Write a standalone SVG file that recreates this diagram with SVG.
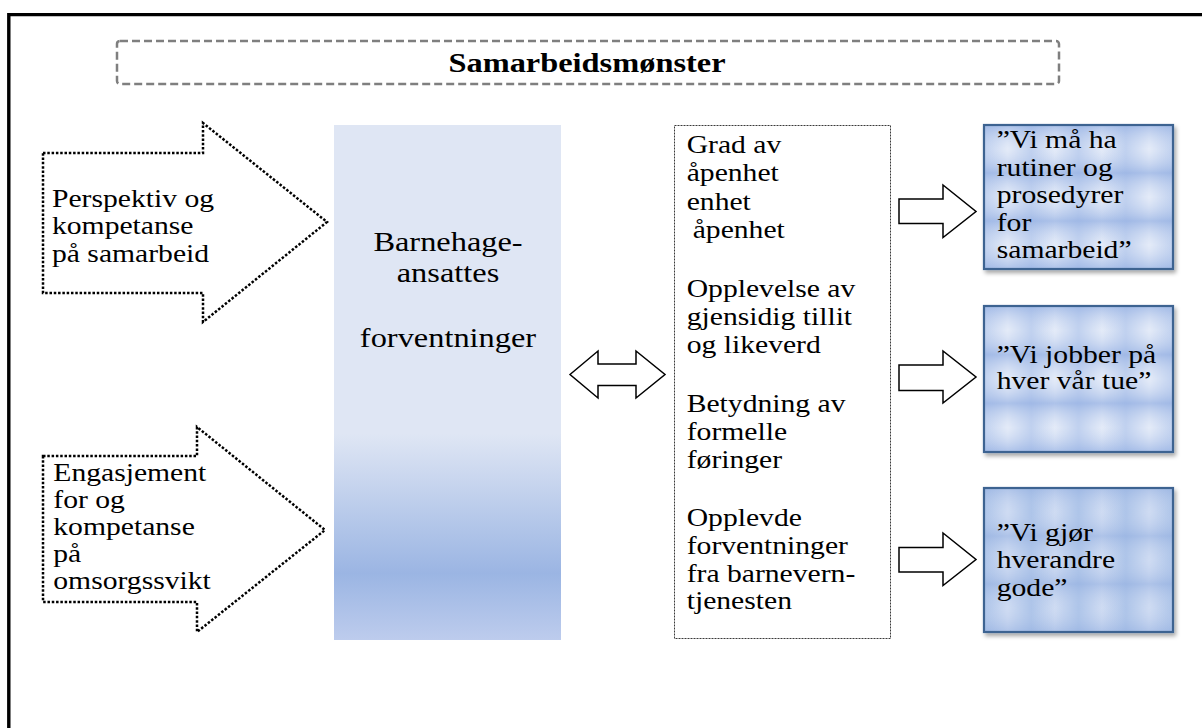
<svg xmlns="http://www.w3.org/2000/svg" width="1202" height="728" viewBox="0 0 1202 728">
<defs>
<style>
.t{font-family:"Liberation Serif","Times New Roman",serif;font-size:24.7px;fill:#000;}
.tb{font-family:"Liberation Serif","Times New Roman",serif;font-size:27px;fill:#000;}
.tt{font-family:"Liberation Serif","Times New Roman",serif;font-size:27px;font-weight:bold;fill:#000;}
.dotarrow{fill:#fff;stroke:#000;stroke-width:2.5;stroke-dasharray:2.5 1.8;}
.blk{fill:#fff;stroke:#000;stroke-width:1.5;stroke-linejoin:miter;}
.qbox{stroke:#3d6391;stroke-width:2.2;}
</style>
<linearGradient id="gcol" x1="0" y1="0" x2="0" y2="1">
<stop offset="0" stop-color="#dfe6f4"/>
<stop offset="0.6" stop-color="#dfe6f4"/>
<stop offset="0.87" stop-color="#9bb5e3"/>
<stop offset="1" stop-color="#bdcced"/>
</linearGradient>
<linearGradient id="gh1" x1="0" y1="0" x2="1" y2="0">
<stop offset="0" stop-color="#b0c5eb"/>
<stop offset="0.5" stop-color="#e4ebf8"/>
<stop offset="1" stop-color="#b0c5eb"/>
</linearGradient>
<linearGradient id="gv1" x1="0" y1="0" x2="0" y2="1">
<stop offset="0" stop-color="#9ab4e4" stop-opacity="0.75"/>
<stop offset="0.5" stop-color="#e4ebf8" stop-opacity="0.3"/>
<stop offset="1" stop-color="#9ab4e4" stop-opacity="0.75"/>
</linearGradient>
<linearGradient id="gh3" x1="0" y1="0" x2="1" y2="0">
<stop offset="0" stop-color="#a3bde6"/>
<stop offset="0.5" stop-color="#cddaf2"/>
<stop offset="1" stop-color="#a3bde6"/>
</linearGradient>
<linearGradient id="gv3" x1="0" y1="0" x2="0" y2="1">
<stop offset="0" stop-color="#9ab4e2" stop-opacity="0.6"/>
<stop offset="0.5" stop-color="#d6e1f4" stop-opacity="0.2"/>
<stop offset="1" stop-color="#9ab4e2" stop-opacity="0.6"/>
</linearGradient>
<pattern id="p1" patternUnits="objectBoundingBox" patternContentUnits="objectBoundingBox" width="0.25" height="0.3333">
<rect width="0.25" height="0.3333" fill="url(#gh1)"/>
<rect width="0.25" height="0.3333" fill="url(#gv1)"/>
</pattern>
<pattern id="p3" patternUnits="objectBoundingBox" patternContentUnits="objectBoundingBox" width="0.25" height="0.3333">
<rect width="0.25" height="0.3333" fill="url(#gh3)"/>
<rect width="0.25" height="0.3333" fill="url(#gv3)"/>
</pattern>
<filter id="sh" x="-10%" y="-10%" width="130%" height="130%">
<feDropShadow dx="2" dy="3" stdDeviation="2" flood-color="#000" flood-opacity="0.35"/>
</filter>
</defs>
<rect width="1202" height="728" fill="#fff"/>
<g id="frame">
<path d="M8.8,740 V14.6 H1215" fill="none" stroke="#000" stroke-width="3.4"/>
</g>
<g id="title">
<rect x="117" y="41" width="942" height="43" rx="3" fill="none" stroke="#7f7f7f" stroke-width="2.5" stroke-dasharray="8 4"/>
<text class="tt" transform="matrix(1.2 0 0 1 587 0)" x="0" y="72.5" text-anchor="middle">Samarbeidsmønster</text>
</g>
<g id="input-perspektiv">
<path class="dotarrow" d="M43,153 H203 V123 L327,222 L203,322 V293 H43 Z"/>
<text class="t" transform="matrix(1.2 0 0 1 52 0)"><tspan x="0" y="207">Perspektiv og</tspan><tspan x="0" y="234.5">kompetanse</tspan><tspan x="0" y="262">på samarbeid</tspan></text>
</g>
<g id="input-engasjement">
<path class="dotarrow" d="M43,456 H197 V427 L325,530 L197,632 V602 H43 Z"/>
<text class="t" transform="matrix(1.2 0 0 1 53.3 0)"><tspan x="0" y="481.5">Engasjement</tspan><tspan x="0" y="508.5">for og</tspan><tspan x="0" y="535.5">kompetanse</tspan><tspan x="0" y="562.5">på</tspan><tspan x="0" y="589.5">omsorgssvikt</tspan></text>
</g>
<g id="center">
<rect x="334" y="125" width="227" height="515" fill="url(#gcol)"/>
<text class="tb" transform="matrix(1.2 0 0 1 448 0)" text-anchor="middle"><tspan x="0" y="251">Barnehage-</tspan><tspan x="0" y="282">ansattes</tspan><tspan x="0" y="347.5">forventninger</tspan></text>
</g>
<g id="factors">
<rect x="674.5" y="125.5" width="216" height="513" fill="#fff" stroke="#3a3a3a" stroke-width="1" stroke-dasharray="2 1"/>
<text class="t" transform="matrix(1.2 0 0 1 686.7 0)"><tspan x="0" y="153">Grad av</tspan><tspan x="0" y="181.5">åpenhet</tspan><tspan x="0" y="210">enhet</tspan><tspan x="5" y="238">åpenhet</tspan><tspan x="0" y="297.5">Opplevelse av</tspan><tspan x="0" y="325.5">gjensidig tillit</tspan><tspan x="0" y="353.5">og likeverd</tspan><tspan x="0" y="412">Betydning av</tspan><tspan x="0" y="440.5">formelle</tspan><tspan x="0" y="468">føringer</tspan><tspan x="0" y="526.5">Opplevde</tspan><tspan x="0" y="554">forventninger</tspan><tspan x="0" y="582">fra barnevern-</tspan><tspan x="0" y="609.5">tjenesten</tspan></text>
</g>
<g id="outcome-rutiner">
<rect class="qbox" x="984" y="125" width="189" height="144" fill="url(#p1)" filter="url(#sh)"/>
<text class="t" transform="matrix(1.2 0 0 1 996.7 0)"><tspan x="0" y="148.3">”Vi må ha</tspan><tspan x="0" y="176">rutiner og</tspan><tspan x="0" y="203.5">prosedyrer</tspan><tspan x="0" y="231">for</tspan><tspan x="0" y="258.5">samarbeid”</tspan></text>
</g>
<g id="outcome-tue">
<rect class="qbox" x="984" y="306" width="189" height="146" fill="url(#p1)" filter="url(#sh)"/>
<text class="t" transform="matrix(1.2 0 0 1 996.7 0)"><tspan x="0" y="363.3">”Vi jobber på</tspan><tspan x="0" y="389.3">hver vår tue”</tspan></text>
</g>
<g id="outcome-gode">
<rect class="qbox" x="984" y="488" width="189" height="144" fill="url(#p3)" filter="url(#sh)"/>
<text class="t" transform="matrix(1.2 0 0 1 996.7 0)"><tspan x="0" y="540.7">”Vi gjør</tspan><tspan x="0" y="568.3">hverandre</tspan><tspan x="0" y="596">gode”</tspan></text>
</g>
<g id="connectors">
<path class="blk" d="M570,374.5 L598,351 V364 H636 V351 L665,374.5 L636,398 V385.5 H598 V398 Z"/>
<path class="blk" d="M899,199 H943 V185 L976,211.5 L943,237.5 V223.5 H899 Z"/>
<path class="blk" d="M899,365 H943 V351 L976,377 L943,403 V390.5 H899 Z"/>
<path class="blk" d="M899,547.5 H943 V533 L976,559.5 L943,585.5 V572 H899 Z"/>
</g>
</svg>
